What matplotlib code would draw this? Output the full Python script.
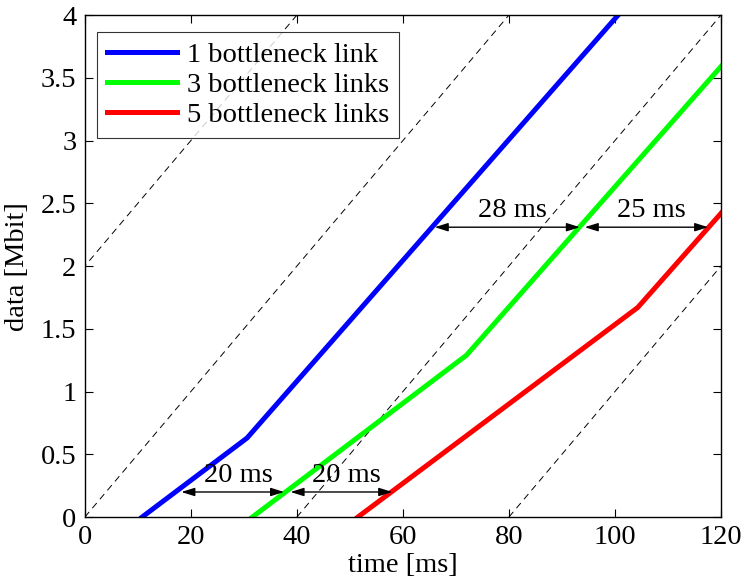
import numpy as np
from matplotlib import pyplot as plt

# measured curves (time in ms, data in Mbit)
time_1 = [10.8, 30.6, 100.6]
data_1 = [0.0, 0.63, 4.0]
time_3 = [31.6, 72.0, 120.0]
data_3 = [0.0, 1.29, 3.59]
time_5 = [51.5, 104.3, 120.0]
data_5 = [0.0, 1.67, 2.42]
labels = ['1 bottleneck link', '3 bottleneck links', '5 bottleneck links']

# reference lines: 50 Mbit/s starting at these times
ref_starts = [-40, 0, 40, 80]
ref_rate = 0.05  # Mbit per ms

# delay annotations: (x_from, x_to, y, text)
delays = [(18.2, 37.6, 0.2, '20 ms'),
          (38.8, 58.0, 0.2, '20 ms'),
          (66.0, 93.4, 2.31, '28 ms'),
          (94.3, 117.6, 2.31, '25 ms')]

plt.rcParams['font.family'] = ['Liberation Serif', 'DejaVu Serif']

FS = 20.5

fig = plt.figure(figsize=(7.44, 5.81), dpi=100)
ax = fig.add_axes([0.114, 0.110, 0.855, 0.864])

for t0 in ref_starts:
    ax.plot([t0, t0 + 4 / ref_rate], [0, 4], color='black', lw=0.7,
            linestyle=(0, (7, 5)))

ax.plot(time_1, data_1, color='#0000ff', lw=3.6, label=labels[0])
ax.plot(time_3, data_3, color='#00ff00', lw=3.6, label=labels[1])
ax.plot(time_5, data_5, color='#ff0000', lw=3.6, label=labels[2])

for x0, x1, y, txt in delays:
    ax.annotate('', xy=(x1, y), xytext=(x0, y),
                arrowprops=dict(arrowstyle='<|-|>,head_length=0.8,head_width=0.25',
                                color='black', lw=1.0, shrinkA=0, shrinkB=0))
    ax.text((x0 + x1) / 2 + 1.0, y + 0.03, txt, ha='center', va='bottom',
            fontsize=FS)

ax.set_xlim(0, 120)
ax.set_ylim(0, 4)
ax.set_xticks(np.arange(0, 121, 20))
ax.set_yticks(np.arange(0, 4.01, 0.5))
ax.set_yticklabels(['0', '0.5', '1', '1.5', '2', '2.5', '3', '3.5', '4'])
ax.tick_params(direction='in', top=True, right=True, labelsize=FS,
               length=6, width=0.8, pad=6)
for s in ax.spines.values():
    s.set_linewidth(1.0)

ax.set_xlabel('time [ms]', fontsize=FS, labelpad=2)
ax.set_ylabel('data [Mbit]', fontsize=FS, labelpad=8)

leg = ax.legend(loc='upper left', bbox_to_anchor=(0.019, 0.966), fontsize=FS,
                frameon=True, fancybox=False, edgecolor='black',
                handlelength=2.45, handletextpad=0.35, borderpad=0.35,
                labelspacing=0.14, borderaxespad=0)
leg.get_frame().set_linewidth(0.8)

fig.savefig('out.png', dpi=100)
